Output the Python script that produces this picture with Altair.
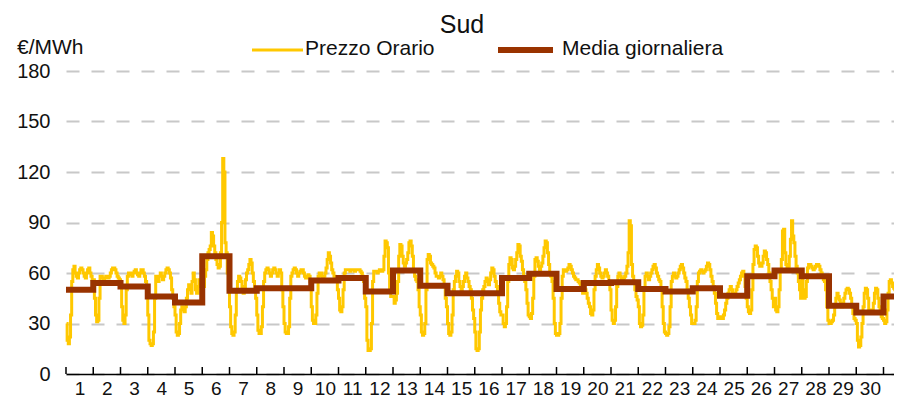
import altair as alt
import pandas as pd

# ---------------- data ----------------
days = list(range(1, 32))
daily_avg = [50, 54, 52, 46, 42.5, 70, 49.5, 51, 51, 55.5, 57, 49, 61.5, 52.5, 48, 48,
             57, 59.5, 50.5, 54, 54.5, 50.5, 49, 51, 46.5, 58, 61.5, 58, 40.5, 36.5, 46]

d01 = [30, 20, 18, 22, 35, 55, 62, 64, 60, 58, 57, 60, 62, 63, 62, 60, 58, 57, 60, 62, 63, 60, 58, 56]
d02 = [56, 45, 35, 31, 32, 45, 58, 58, 57, 56, 57, 58, 58, 57, 58, 60, 62, 63, 63, 62, 60, 58, 57, 56]
d03 = [55, 40, 32, 30, 35, 50, 58, 60, 60, 59, 58, 60, 61, 62, 60, 59, 58, 60, 62, 62, 60, 58, 55, 50]
d04 = [35, 20, 18, 17, 18, 25, 45, 58, 57, 55, 58, 60, 58, 56, 58, 60, 62, 63, 62, 60, 57, 50, 45, 40]
d05 = [35, 25, 23, 24, 30, 38, 40, 38, 37, 40, 45, 50, 53, 50, 48, 55, 60, 56, 50, 48, 52, 56, 52, 48]
d06 = [48, 52, 58, 62, 68, 72, 74, 76, 84, 82, 76, 72, 68, 65, 63, 64, 72, 90, 128, 120, 78, 72, 60, 50]
d07 = [40, 28, 24, 23, 25, 35, 50, 55, 58, 57, 55, 50, 48, 52, 56, 60, 62, 65, 68, 66, 60, 55, 50, 45]
d08 = [35, 26, 24, 24, 28, 40, 55, 60, 62, 63, 62, 60, 58, 60, 62, 63, 62, 60, 58, 60, 62, 60, 50, 40]
d09 = [30, 25, 24, 24, 28, 45, 58, 60, 62, 63, 62, 60, 58, 60, 61, 62, 62, 60, 58, 57, 58, 59, 58, 55]
d10 = [40, 32, 30, 30, 35, 48, 58, 60, 60, 58, 57, 58, 60, 63, 68, 72, 70, 66, 62, 60, 58, 57, 56, 50]
d11 = [45, 38, 37, 40, 50, 60, 62, 62, 62, 62, 61, 62, 62, 62, 61, 62, 62, 62, 62, 61, 60, 58, 55, 45]
d12 = [40, 20, 14, 14, 15, 30, 55, 61, 61, 61, 60, 61, 62, 62, 61, 62, 70, 79, 78, 75, 60, 50, 46, 46]
d13 = [46, 42, 44, 48, 55, 70, 77, 76, 70, 66, 64, 66, 68, 72, 78, 79, 76, 70, 62, 58, 56, 55, 50, 40]
d14 = [35, 25, 23, 24, 30, 50, 68, 71, 70, 66, 65, 64, 63, 60, 58, 58, 57, 58, 60, 58, 56, 52, 45, 40]
d15 = [30, 24, 23, 25, 35, 50, 55, 58, 61, 60, 55, 52, 50, 52, 55, 58, 60, 57, 55, 52, 50, 45, 38, 33]
d16 = [25, 15, 14, 15, 25, 38, 45, 50, 52, 55, 57, 55, 53, 56, 60, 63, 62, 58, 55, 52, 48, 42, 37, 35]
d17 = [35, 30, 28, 30, 40, 55, 65, 69, 68, 63, 62, 64, 68, 72, 77, 76, 70, 67, 62, 58, 55, 50, 42, 35]
d18 = [34, 33, 36, 45, 58, 68, 69, 67, 64, 62, 64, 66, 70, 75, 79, 78, 72, 65, 60, 58, 55, 45, 30, 24]
d19 = [23, 23, 24, 30, 45, 58, 62, 62, 61, 62, 63, 65, 64, 62, 60, 58, 57, 56, 56, 55, 54, 52, 50, 48]
d20 = [52, 50, 48, 45, 42, 40, 36, 35, 38, 50, 58, 62, 65, 63, 60, 58, 57, 58, 60, 62, 60, 58, 55, 50]
d21 = [38, 32, 30, 32, 40, 52, 58, 60, 58, 56, 55, 57, 58, 60, 64, 72, 91, 88, 65, 58, 55, 50, 46, 44]
d22 = [40, 30, 28, 29, 35, 50, 58, 60, 58, 56, 58, 60, 62, 64, 65, 63, 60, 58, 56, 55, 50, 40, 30, 25]
d23 = [24, 23, 24, 28, 40, 55, 58, 60, 58, 57, 58, 60, 62, 64, 65, 63, 60, 57, 55, 50, 45, 40, 35, 30]
d24 = [30, 30, 32, 40, 55, 60, 61, 62, 61, 60, 61, 62, 64, 66, 65, 62, 58, 55, 52, 48, 42, 36, 33, 34]
d25 = [34, 33, 33, 35, 38, 42, 45, 48, 50, 52, 50, 48, 46, 47, 50, 52, 54, 56, 58, 60, 61, 58, 52, 45]
d26 = [40, 37, 36, 38, 50, 65, 74, 76, 75, 70, 66, 64, 64, 66, 70, 73, 72, 68, 65, 60, 55, 50, 45, 40]
d27 = [45, 38, 37, 40, 50, 62, 68, 85, 86, 72, 65, 62, 64, 70, 80, 91, 82, 78, 70, 64, 60, 55, 50, 45]
d28 = [58, 50, 45, 46, 55, 63, 65, 65, 64, 63, 62, 63, 64, 65, 65, 64, 62, 60, 58, 56, 55, 50, 40, 32]
d29 = [30, 30, 31, 32, 35, 40, 45, 48, 46, 44, 42, 40, 42, 45, 48, 50, 51, 50, 48, 45, 40, 36, 33, 32]
d30 = [30, 20, 16, 17, 22, 30, 40, 48, 51, 50, 45, 38, 36, 36, 38, 42, 48, 51, 50, 45, 40, 36, 34, 33]
d31 = [32, 30, 31, 38, 48, 55, 56, 54, 52, 51, 50, 52, 54, 56, 55, 53, 50, 48, 46, 44, 42, 40, 38, 36]

hourly_by_day = [d01, d02, d03, d04, d05, d06, d07, d08, d09, d10, d11, d12, d13, d14, d15, d16,
                 d17, d18, d19, d20, d21, d22, d23, d24, d25, d26, d27, d28, d29, d30, d31]

y_ticks = [0, 30, 60, 90, 120, 150, 180]

title_text = "Sud"
unit_text = "€/MWh"
legend_hourly = "Prezzo Orario"
legend_daily = "Media giornaliera"

# ---------------- tables ----------------
rows = []
for d, vals in zip(days, hourly_by_day):
    for h, v in enumerate(vals):
        rows.append({"t": d - 1 + (h + 0.5) / 24, "price": v})
hourly_df = pd.DataFrame(rows)

avg_df = pd.DataFrame({"t": [d - 1 for d in days] + [len(days)],
                       "avg": daily_avg + [daily_avg[-1]]})
tick_df = pd.DataFrame({"t": list(range(0, len(days) + 1))})
one = pd.DataFrame({"k": [0]})

# ---------------- styles ----------------
YELLOW = "#FFC800"
BROWN = "#993300"
FONT = "Liberation Sans"
DAY_PX = 27.25                 # width of one day on the x axis
W, H = 828, 303                # plot area; the chart runs off the right edge like the original
visible_days = W / DAY_PX

xscale = alt.Scale(domain=[0, visible_days], nice=False, zero=False)
yscale = alt.Scale(domain=[0, 180], nice=False)

xaxis = alt.Axis(values=[d - 0.5 for d in days], labelExpr="format(datum.value + 0.5, 'd')",
                 grid=False, ticks=False, domain=True, domainColor="#000", domainWidth=1.5,
                 labelFontSize=19, labelFont=FONT, labelColor="#111", labelPadding=5,
                 labelAngle=0, labelOverlap=False, labelFlush=False, labelBound=False,
                 title=None)
yaxis = alt.Axis(values=y_ticks, grid=True, gridDash=[13, 12], gridColor="#c8c8c8",
                 gridWidth=2, domain=False, ticks=False, labelPadding=16,
                 labelFontSize=20, labelFont=FONT, labelColor="#111", title=None)

hourly_line = alt.Chart(hourly_df).mark_line(
    color=YELLOW, strokeWidth=3, interpolate="step"
).encode(
    x=alt.X("t:Q", scale=xscale, axis=xaxis),
    y=alt.Y("price:Q", scale=yscale, axis=yaxis),
)

avg_line = alt.Chart(avg_df).mark_line(
    color=BROWN, strokeWidth=6, interpolate="step-after"
).encode(
    x=alt.X("t:Q", scale=xscale, axis=xaxis),
    y=alt.Y("avg:Q", scale=yscale, axis=yaxis),
)

ticks = alt.Chart(tick_df).mark_rule(color="#000", strokeWidth=1.5).encode(
    x=alt.X("t:Q", scale=xscale, axis=xaxis),
    y=alt.value(H - 7),
    y2=alt.value(H),
)

title = alt.Chart(one).mark_text(
    text=title_text, font=FONT, fontSize=25, align="center", baseline="alphabetic", color="#111"
).encode(x=alt.value(396), y=alt.value(-38))

unit = alt.Chart(one).mark_text(
    text=unit_text, font=FONT, fontSize=21, align="left", baseline="alphabetic", color="#111"
).encode(x=alt.value(-49), y=alt.value(-17.5))

leg1_line = alt.Chart(one).mark_rule(color=YELLOW, strokeWidth=3).encode(
    x=alt.value(186), x2=alt.value(237), y=alt.value(-21))
leg1_text = alt.Chart(one).mark_text(
    text=legend_hourly, font=FONT, fontSize=21, align="left", baseline="alphabetic", color="#111"
).encode(x=alt.value(239), y=alt.value(-16))
leg2_line = alt.Chart(one).mark_rule(color=BROWN, strokeWidth=6).encode(
    x=alt.value(432), x2=alt.value(487), y=alt.value(-21))
leg2_text = alt.Chart(one).mark_text(
    text=legend_daily, font=FONT, fontSize=21, align="left", baseline="alphabetic", color="#111"
).encode(x=alt.value(496), y=alt.value(-16))

chart = alt.layer(
    hourly_line, avg_line, ticks, title, unit, leg1_line, leg1_text, leg2_line, leg2_text
).properties(
    width=W, height=H,
    autosize=alt.AutoSizeParams(type="none"),
    padding={"left": 58, "top": 63, "right": 0, "bottom": 24},
).configure(
    background="white",
    view=alt.ViewConfig(strokeWidth=0),
)

chart.save("out.html", embed_options={"renderer": "svg", "actions": False})
